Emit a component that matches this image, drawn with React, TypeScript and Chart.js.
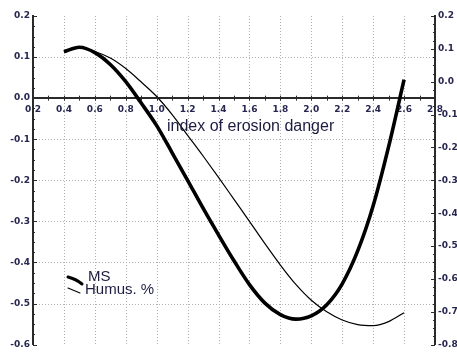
import React, { useEffect, useRef } from "react";
import { Chart, registerables } from "chart.js";

Chart.register(...registerables);

const indexValues = [0.4, 0.5, 0.6, 0.7, 0.8, 0.9, 1.0, 1.1, 1.2, 1.3, 1.4, 1.5, 1.6, 1.7, 1.8, 1.9, 2.0, 2.1, 2.2, 2.3, 2.4, 2.5, 2.6];
const msValues = [0.113, 0.124, 0.111, 0.082, 0.04, -0.012, -0.067, -0.133, -0.2, -0.268, -0.333, -0.396, -0.454, -0.499, -0.527, -0.538, -0.53, -0.503, -0.452, -0.372, -0.262, -0.118, 0.045];
const humusValues = [0.091, 0.103, 0.092, 0.072, 0.04, -0.001, -0.045, -0.1, -0.163, -0.226, -0.291, -0.358, -0.425, -0.493, -0.558, -0.617, -0.665, -0.7, -0.725, -0.739, -0.742, -0.73, -0.703];

const xRange = [0.2, 2.8];
const leftRange = [-0.6, 0.2];
const rightRange = [-0.8, 0.2];
const seriesNames = ["MS", "Humus. %"];
const axisTitle = "index of erosion danger";

const labelColor = "#262650";
const tickFont = { family: "DejaVu Sans", size: 9, weight: "bold" as const };

const fmt = (v: number) => {
  const s = Number(v).toFixed(1);
  return s === "-0.0" ? "0.0" : s;
};

const near = (a: number, b: number) => Math.abs(a - b) < 1e-6;

const gridPlugin = {
  id: "dotgrid",
  beforeDatasetsDraw(chart: any) {
    const ctx = chart.ctx;
    const { x, y } = chart.scales;
    const area = chart.chartArea;
    ctx.save();
    ctx.strokeStyle = "#b0b0b0";
    ctx.lineWidth = 1;
    ctx.setLineDash([1, 2]);
    x.ticks.forEach((t: any) => {
      if (near(t.value, xRange[0]) || near(t.value, xRange[1])) return;
      const px = Math.round(x.getPixelForValue(t.value)) + 0.5;
      ctx.beginPath();
      ctx.moveTo(px, area.top);
      ctx.lineTo(px, area.bottom);
      ctx.stroke();
    });
    y.ticks.forEach((t: any) => {
      if (near(t.value, leftRange[0]) || near(t.value, leftRange[1]) || near(t.value, 0)) return;
      const py = Math.round(y.getPixelForValue(t.value)) + 0.5;
      ctx.beginPath();
      ctx.moveTo(area.left, py);
      ctx.lineTo(area.right, py);
      ctx.stroke();
    });
    ctx.restore();
  },
};

const decorPlugin = {
  id: "decor",
  afterDraw(chart: any) {
    const ctx = chart.ctx;
    const { x, y, y1 } = chart.scales;
    const area = chart.chartArea;
    ctx.save();
    ctx.strokeStyle = "#2a2a2a";
    ctx.lineWidth = 1;
    for (let i = 0; i <= 32; i++) {
      const v = leftRange[0] + i * 0.025;
      const py = Math.round(y.getPixelForValue(v)) + 0.5;
      const len = i % 4 === 0 ? 4 : 2;
      ctx.beginPath();
      ctx.moveTo(area.left, py);
      ctx.lineTo(area.left + len, py);
      ctx.stroke();
    }
    for (let i = 0; i <= 40; i++) {
      const v = rightRange[0] + i * 0.025;
      const py = Math.round(y1.getPixelForValue(v)) + 0.5;
      const len = i % 4 === 0 ? 4 : 2;
      ctx.beginPath();
      ctx.moveTo(area.right, py);
      ctx.lineTo(area.right - len, py);
      ctx.stroke();
    }
    const zy = y.getPixelForValue(0);
    for (let i = 0; i <= 26; i++) {
      const v = xRange[0] + i * 0.1;
      const px = Math.round(x.getPixelForValue(v)) + 0.5;
      ctx.beginPath();
      ctx.moveTo(px, zy - 2.5);
      ctx.lineTo(px, zy + 2.5);
      ctx.stroke();
    }
    ctx.fillStyle = "#1c1c40";
    ctx.font = "16px 'Liberation Sans', Arial, sans-serif";
    ctx.textBaseline = "alphabetic";
    ctx.textAlign = "left";
    ctx.fillText(axisTitle, 167, 131);
    ctx.strokeStyle = "#000";
    ctx.lineCap = "round";
    ctx.lineWidth = 3;
    ctx.beginPath();
    ctx.moveTo(68, 277);
    ctx.quadraticCurveTo(76, 279, 82, 284);
    ctx.stroke();
    ctx.lineWidth = 1.1;
    ctx.beginPath();
    ctx.moveTo(68, 288);
    ctx.lineTo(80, 293);
    ctx.stroke();
    ctx.fillStyle = "#1c1c40";
    ctx.font = "15px 'Liberation Sans', Arial, sans-serif";
    ctx.fillText(seriesNames[0], 88, 281);
    ctx.fillText(seriesNames[1], 85, 294);
    ctx.restore();
  },
};

export default function App() {
  const ref = useRef<HTMLCanvasElement | null>(null);
  useEffect(() => {
    if (!ref.current) return;
    const chart = new Chart(ref.current, {
      type: "line",
      data: {
        datasets: [
          {
            label: seriesNames[0],
            data: indexValues.map((v, i) => ({ x: v, y: msValues[i] })),
            borderColor: "#000",
            borderWidth: 3.6,
            pointRadius: 0,
            cubicInterpolationMode: "monotone",
            yAxisID: "y",
          },
          {
            label: seriesNames[1],
            data: indexValues.map((v, i) => ({ x: v, y: humusValues[i] })),
            borderColor: "#000",
            borderWidth: 1.2,
            pointRadius: 0,
            cubicInterpolationMode: "monotone",
            yAxisID: "y1",
          },
        ],
      },
      options: {
        animation: false,
        responsive: false,
        layout: { padding: { top: 16, bottom: 6, left: 0, right: 0 } },
        plugins: { legend: { display: false }, tooltip: { enabled: false } },
        scales: {
          x: {
            type: "linear",
            position: { y: 0 } as any,
            min: xRange[0],
            max: xRange[1],
            afterFit: (s: any) => {
              s.height = 0;
            },
            ticks: {
              stepSize: 0.2,
              autoSkip: false,
              maxRotation: 0,
              padding: 6,
              color: labelColor,
              font: tickFont,
              callback: (v: any) => fmt(v),
            },
            grid: { display: false, drawTicks: false },
            border: { display: true, color: "#2a2a2a", width: 2 },
          },
          y: {
            type: "linear",
            position: "left",
            min: leftRange[0],
            max: leftRange[1],
            afterFit: (s: any) => {
              s.width = 33;
            },
            ticks: {
              stepSize: 0.1,
              padding: 3,
              color: labelColor,
              font: tickFont,
              callback: (v: any) => fmt(v),
            },
            grid: { display: false, drawTicks: false },
            border: { display: true, color: "#2a2a2a", width: 2 },
          },
          y1: {
            type: "linear",
            position: "right",
            min: rightRange[0],
            max: rightRange[1],
            afterFit: (s: any) => {
              s.width = 22;
            },
            ticks: {
              stepSize: 0.1,
              padding: 3,
              color: labelColor,
              font: tickFont,
              callback: (v: any) => fmt(v),
            },
            grid: { display: false, drawTicks: false },
            border: { display: true, color: "#2a2a2a", width: 2 },
          },
        },
      },
      plugins: [gridPlugin, decorPlugin],
    });
    return () => chart.destroy();
  }, []);
  return (
    <div style={{ position: "absolute", left: 0, top: 0, width: 457, height: 353, background: "#fff" }}>
      <canvas ref={ref} width={457} height={353} style={{ display: "block" }} />
    </div>
  );
}
